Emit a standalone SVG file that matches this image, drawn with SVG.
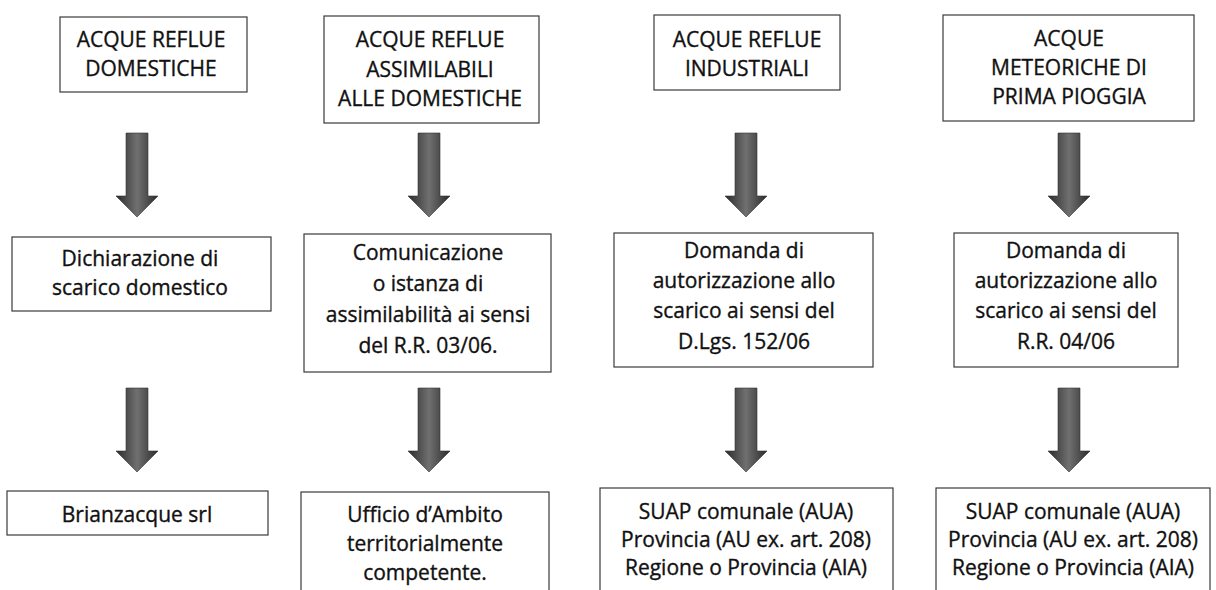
<svg xmlns="http://www.w3.org/2000/svg" xmlns:xlink="http://www.w3.org/1999/xlink" width="1216" height="590" viewBox="0 0 1216 590">
<style>
.box{fill:#fff;stroke:#3a3a3a;stroke-width:1.2}
.t{font-family:"Open Sans","Noto Sans","Liberation Sans",sans-serif;font-size:21px;fill:#111;stroke:#111;stroke-width:0.35;text-anchor:middle}
.arr{fill:url(#ag);stroke:#333;stroke-width:0.6}
</style>
<defs>
<linearGradient id="ag" x1="0" y1="0" x2="1" y2="0">
<stop offset="0" stop-color="#2b2b2b"/>
<stop offset="0.5" stop-color="#707070"/>
<stop offset="1" stop-color="#2b2b2b"/>
</linearGradient>
<path id="arrow" class="arr" d="M-11,0 H11 V63 H21 L0,84 L-21,63 H-11 Z"/>
</defs>
<rect width="1216" height="590" fill="#fff"/>

<g id="connectors">
<use xlink:href="#arrow" x="137" y="133"/>
<use xlink:href="#arrow" x="429" y="133"/>
<use xlink:href="#arrow" x="746" y="133"/>
<use xlink:href="#arrow" x="1069" y="133"/>
<use xlink:href="#arrow" x="137" y="388"/>
<use xlink:href="#arrow" x="429" y="388"/>
<use xlink:href="#arrow" x="746" y="388"/>
<use xlink:href="#arrow" x="1069" y="388"/>
</g>

<g id="n1a">
<rect class="box" x="60" y="17" width="187" height="75"/>
<text class="t" x="151" y="47">ACQUE REFLUE</text>
<text class="t" x="151" y="76">DOMESTICHE</text>
</g>
<g id="n2a">
<rect class="box" x="324" y="16" width="215" height="107"/>
<text class="t" x="430" y="47">ACQUE REFLUE</text>
<text class="t" x="430" y="77">ASSIMILABILI</text>
<text class="t" x="430" y="106">ALLE DOMESTICHE</text>
</g>
<g id="n3a">
<rect class="box" x="654" y="15" width="186" height="75"/>
<text class="t" x="747" y="47">ACQUE REFLUE</text>
<text class="t" x="747" y="76">INDUSTRIALI</text>
</g>
<g id="n4a">
<rect class="box" x="943" y="15" width="251" height="106"/>
<text class="t" x="1069" y="46">ACQUE</text>
<text class="t" x="1069" y="75">METEORICHE DI</text>
<text class="t" x="1069" y="104">PRIMA PIOGGIA</text>
</g>

<g id="n1b">
<rect class="box" x="12" y="237" width="259" height="74"/>
<text class="t" x="140" y="266">Dichiarazione di</text>
<text class="t" x="140" y="295">scarico domestico</text>
</g>
<g id="n2b">
<rect class="box" x="304" y="234" width="247" height="138"/>
<text class="t" x="428" y="260">Comunicazione</text>
<text class="t" x="428" y="291">o istanza di</text>
<text class="t" x="428" y="322">assimilabilità ai sensi</text>
<text class="t" x="428" y="353">del R.R. 03/06.</text>
</g>
<g id="n3b">
<rect class="box" x="614" y="233" width="259" height="134"/>
<text class="t" x="744" y="258">Domanda di</text>
<text class="t" x="744" y="288">autorizzazione allo</text>
<text class="t" x="744" y="318">scarico ai sensi del</text>
<text class="t" x="744" y="349">D.Lgs. 152/06</text>
</g>
<g id="n4b">
<rect class="box" x="954" y="233" width="224" height="134"/>
<text class="t" x="1066" y="258">Domanda di</text>
<text class="t" x="1066" y="288">autorizzazione allo</text>
<text class="t" x="1066" y="318">scarico ai sensi del</text>
<text class="t" x="1066" y="349">R.R. 04/06</text>
</g>

<g id="n1c">
<rect class="box" x="7" y="491" width="261" height="44"/>
<text class="t" x="137" y="522">Brianzacque srl</text>
</g>
<g id="n2c">
<rect class="box" x="301" y="492" width="248" height="110"/>
<text class="t" x="425" y="522">Ufficio d’Ambito</text>
<text class="t" x="425" y="551">territorialmente</text>
<text class="t" x="425" y="580">competente.</text>
</g>
<g id="n3c">
<rect class="box" x="600" y="488" width="293" height="114"/>
<text class="t" x="746" y="519">SUAP comunale (AUA)</text>
<text class="t" x="746" y="547">Provincia (AU ex. art. 208)</text>
<text class="t" x="746" y="575">Regione o Provincia (AIA)</text>
</g>
<g id="n4c">
<rect class="box" x="936" y="488" width="274" height="114"/>
<text class="t" x="1073" y="519">SUAP comunale (AUA)</text>
<text class="t" x="1073" y="547">Provincia (AU ex. art. 208)</text>
<text class="t" x="1073" y="575">Regione o Provincia (AIA)</text>
</g>
</svg>
